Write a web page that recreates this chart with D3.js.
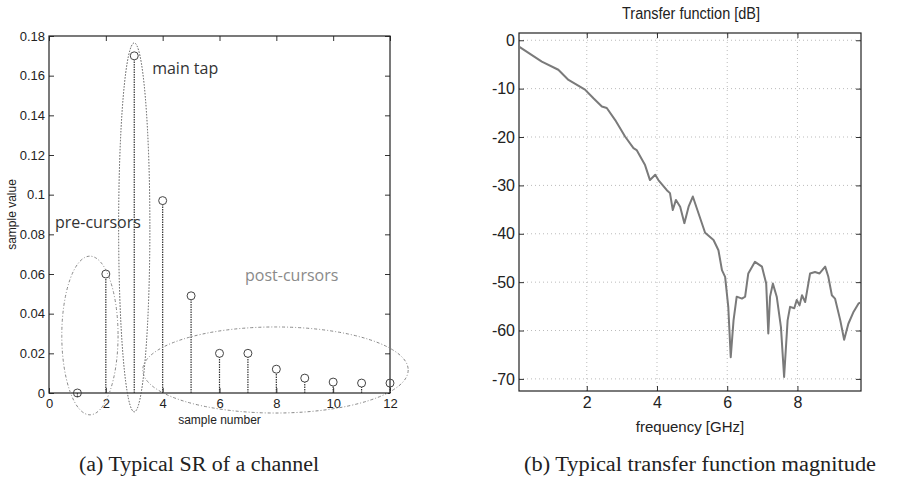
<!DOCTYPE html>
<html lang="en">
<head>
    <meta charset="UTF-8">
    <title>Typical SR and transfer function</title>
    <script src="https://d3js.org/d3.v7.min.js"></script>
    <style>
        body {
            margin: 0;
            background: #fff;
        }
        svg text {
            fill: #222;
        }
        .narrow {
            font-family: "Liberation Sans Narrow", "Arial Narrow", "Liberation Sans", Arial, sans-serif;
        }
        .caption {
            font-family: "Liberation Serif", "DejaVu Serif", serif;
            font-size: 20px;
        }
    </style>
</head>
<body>
<div id="chart"></div>
<script>
    // ---- (a) sampled response ----
    const sampleNumbers = [1, 2, 3, 4, 5, 6, 7, 8, 9, 10, 11, 12];
    const sampleValues = [0, 0.060, 0.170, 0.097, 0.049, 0.020, 0.020, 0.012, 0.0075, 0.0055, 0.005, 0.005];
    const srXTicks = [0, 2, 4, 6, 8, 10, 12];
    const srYTicks = [0, 0.02, 0.04, 0.06, 0.08, 0.1, 0.12, 0.14, 0.16, 0.18];
    const srYTickLabels = ["0", "0.02", "0.04", "0.06", "0.08", "0.1", "0.12", "0.14", "0.16", "0.18"];

    // annotation ellipses (data units: centre x, centre y, radius x, radius y)
    const groupNames = ["pre-cursors", "main tap", "post-cursors"];
    const groupCx = [1.44, 3.0, 7.97];
    const groupCy = [0.029, 0.0835, 0.0116];
    const groupRx = [0.99, 0.55, 4.67];
    const groupRy = [0.040, 0.093, 0.0217];
    const groupLabelX = [0.21, 3.63, 6.9];
    const groupLabelY = [0.083, 0.161, 0.0565];

    // ---- (b) transfer function magnitude ----
    const freqGHz = [0.07, 0.72, 1.19, 1.48, 1.95, 2.19, 2.43, 2.57, 2.81, 3.09, 3.33, 3.42, 3.66, 3.80, 3.95, 4.04,
        4.28, 4.37, 4.45, 4.54, 4.66, 4.78, 4.90, 5.02, 5.23, 5.37, 5.61, 5.75, 5.85, 5.94, 6.03, 6.10, 6.18,
        6.27, 6.42, 6.51, 6.60, 6.79, 6.99, 7.11, 7.17, 7.22, 7.30, 7.41, 7.53, 7.62, 7.72, 7.79, 7.91, 7.98,
        8.06, 8.13, 8.22, 8.27, 8.36, 8.50, 8.63, 8.79, 8.88, 8.98, 9.07, 9.22, 9.33, 9.45, 9.60, 9.74, 9.81];
    const magnitudeDb = [-1.3, -4.4, -6.1, -8.2, -10.2, -12.0, -13.7, -14.0, -16.5, -19.9, -22.3, -22.7, -25.8, -28.9, -27.8, -28.9,
        -31.0, -31.6, -35.1, -33.0, -34.4, -37.8, -34.4, -32.3, -36.8, -39.8, -41.3, -43.4, -47.5, -48.9, -55.1, -65.5, -57.9,
        -53.0, -53.4, -53.0, -48.2, -45.8, -46.8, -50.3, -60.6, -53.0, -50.3, -53.0, -59.3, -69.6, -57.9, -55.1, -55.4, -53.7,
        -54.8, -52.7, -54.1, -52.0, -48.2, -47.9, -48.2, -46.8, -48.9, -52.7, -53.4, -57.9, -61.9, -58.6, -56.1, -54.4, -54.2];
    const tfXTicks = [2, 4, 6, 8];
    const tfYTicks = [0, -10, -20, -30, -40, -50, -60, -70];

    const W = 897, H = 484;
    const svg = d3.select("#chart").append("svg")
        .attr("width", W)
        .attr("height", H);

    // inward ticks on all four sides, box drawn separately
    function boxAxes(g, x, y, xTicks, yTicks, xFmt, yFmt, fontSize, cls) {
        const [x0, x1] = x.range();
        const [y0, y1] = y.range();
        const tick = 5;

        g.append("g").attr("transform", `translate(0,${y0})`)
            .call(d3.axisBottom(x).tickValues(xTicks).tickSizeInner(-tick).tickSizeOuter(0).tickPadding(6).tickFormat(xFmt));
        g.append("g").attr("transform", `translate(0,${y1})`)
            .call(d3.axisTop(x).tickValues(xTicks).tickSizeInner(-tick).tickSizeOuter(0).tickFormat(""));
        g.append("g").attr("transform", `translate(${x0},0)`)
            .call(d3.axisLeft(y).tickValues(yTicks).tickSizeInner(-tick).tickSizeOuter(0).tickPadding(4).tickFormat(yFmt));
        g.append("g").attr("transform", `translate(${x1},0)`)
            .call(d3.axisRight(y).tickValues(yTicks).tickSizeInner(-tick).tickSizeOuter(0).tickFormat(""));

        g.selectAll(".domain").remove();
        g.selectAll(".tick line").attr("stroke", "#333");
        g.selectAll(".tick text")
            .attr("class", cls)
            .style("font-size", fontSize + "px")
            .attr("fill", "#222");

        g.append("rect")
            .attr("x", x0).attr("y", y1)
            .attr("width", x1 - x0).attr("height", y0 - y1)
            .attr("fill", "none")
            .attr("stroke", "#222")
            .attr("stroke-width", 1.2);
    }

    // ================= (a) =================
    const xa = d3.scaleLinear().domain([0, 12]).range([49, 390]);
    const ya = d3.scaleLinear().domain([0, 0.18]).range([393, 36]);
    const ga = svg.append("g");

    boxAxes(ga, xa, ya, srXTicks, srYTicks, d => d, (d, i) => srYTickLabels[i], 13, "narrow");

    // stems
    ga.selectAll(".stem")
        .data(sampleNumbers)
        .join("line")
        .attr("x1", d => xa(d)).attr("x2", d => xa(d))
        .attr("y1", ya(0))
        .attr("y2", (d, i) => ya(sampleValues[i]) + 4)
        .attr("stroke", "#333")
        .attr("stroke-width", 1.2)
        .attr("stroke-dasharray", "1.5,1");

    ga.selectAll(".mark")
        .data(sampleNumbers)
        .join("circle")
        .attr("cx", d => xa(d))
        .attr("cy", (d, i) => ya(sampleValues[i]))
        .attr("r", 4)
        .attr("fill", "none")
        .attr("stroke", "#444")
        .attr("stroke-width", 1);

    // ellipses round the groups
    ga.selectAll(".group")
        .data(groupNames)
        .join("ellipse")
        .attr("cx", (d, i) => xa(groupCx[i]))
        .attr("cy", (d, i) => ya(groupCy[i]))
        .attr("rx", (d, i) => xa(groupRx[i]) - xa(0))
        .attr("ry", (d, i) => ya(0) - ya(groupRy[i]))
        .attr("fill", "none")
        .attr("stroke", (d, i) => i === 1 ? "#555" : "#888")
        .attr("stroke-width", 1)
        .attr("stroke-dasharray", (d, i) => i === 1 ? "1.5,1.5" : "3,2,1,2");

    ga.selectAll(".group-label")
        .data(groupNames)
        .join("text")
        .attr("x", (d, i) => xa(groupLabelX[i]))
        .attr("y", (d, i) => ya(groupLabelY[i]))
        .style("font-family", "'Open Sans', sans-serif")
        .style("font-size", "16px")
        .style("fill", (d, i) => i === 2 ? "#8a8a8a" : "#333")
        .text(d => d);

    ga.append("text")
        .attr("class", "narrow")
        .attr("transform", `translate(16,${(ya.range()[0] + ya.range()[1]) / 2}) rotate(-90)`)
        .attr("text-anchor", "middle")
        .style("font-size", "12px")
        .text("sample value");

    ga.append("text")
        .attr("class", "narrow")
        .attr("x", (xa.range()[0] + xa.range()[1]) / 2)
        .attr("y", 424)
        .attr("text-anchor", "middle")
        .style("font-size", "12px")
        .text("sample number");

    // ================= (b) =================
    const xb = d3.scaleLinear().domain([0.07, 9.81]).range([519, 861]);
    const yb = d3.scaleLinear().domain([-72.5, 1.5]).range([391, 33]);
    const gb = svg.append("g");

    // dotted grid
    gb.selectAll(".vgrid")
        .data(tfXTicks)
        .join("line")
        .attr("x1", d => xb(d)).attr("x2", d => xb(d))
        .attr("y1", yb.range()[0]).attr("y2", yb.range()[1])
        .attr("stroke", "#bbb")
        .attr("stroke-dasharray", "1,3");
    gb.selectAll(".hgrid")
        .data(tfYTicks)
        .join("line")
        .attr("x1", xb.range()[0]).attr("x2", xb.range()[1])
        .attr("y1", d => yb(d)).attr("y2", d => yb(d))
        .attr("stroke", "#bbb")
        .attr("stroke-dasharray", "1,3");

    boxAxes(gb, xb, yb, tfXTicks, tfYTicks, d => d, d => d, 16, "");
    gb.selectAll(".tick text").style("font-family", "'Liberation Sans', Arial, sans-serif");

    const line = d3.line()
        .x((d, i) => xb(freqGHz[i]))
        .y((d, i) => yb(magnitudeDb[i]));

    gb.append("path")
        .datum(magnitudeDb)
        .attr("d", line)
        .attr("fill", "none")
        .attr("stroke", "#7a7a7a")
        .attr("stroke-width", 2)
        .attr("stroke-linejoin", "round");

    gb.append("text")
        .attr("class", "narrow")
        .attr("x", 691)
        .attr("y", 19)
        .attr("text-anchor", "middle")
        .attr("textLength", 138)
        .attr("lengthAdjust", "spacingAndGlyphs")
        .style("font-size", "16px")
        .text("Transfer function [dB]");

    gb.append("text")
        .attr("class", "narrow")
        .attr("x", 690)
        .attr("y", 432)
        .attr("text-anchor", "middle")
        .style("font-size", "15px")
        .text("frequency [GHz]");

    // captions (stretched a little towards the wider Computer Modern look)
    svg.append("text")
        .attr("class", "caption")
        .attr("x", 199)
        .attr("y", 471)
        .attr("text-anchor", "middle")
        .attr("textLength", 240)
        .attr("lengthAdjust", "spacingAndGlyphs")
        .text("(a) Typical SR of a channel");

    svg.append("text")
        .attr("class", "caption")
        .attr("x", 700)
        .attr("y", 471)
        .attr("text-anchor", "middle")
        .attr("textLength", 352)
        .attr("lengthAdjust", "spacingAndGlyphs")
        .text("(b) Typical transfer function magnitude");
</script>
</body>
</html>
